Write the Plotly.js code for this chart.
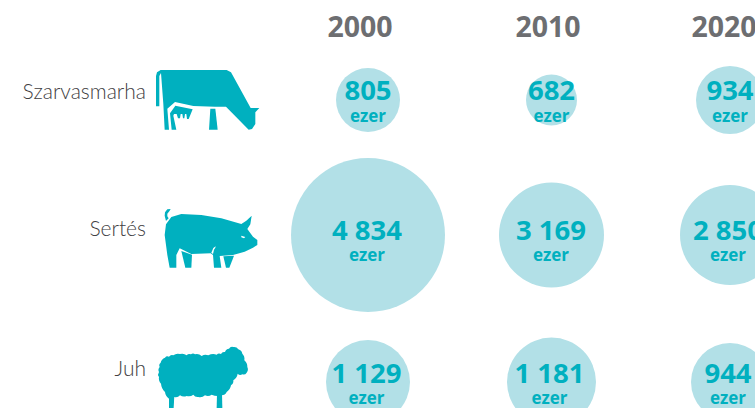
<!DOCTYPE html>
<html><head><meta charset="utf-8">
<script src="https://cdn.plot.ly/plotly-3.0.1.min.js"></script>
<style>html,body{margin:0;padding:0;background:#fff;overflow:hidden}#c{width:755px;height:408px}</style>
</head><body><div id="c"></div>
<script>
// Data
const years = ['2000','2010','2020'];
const animals = ['Szarvasmarha','Sertés','Juh'];
const labels2000 = ['805','4 834','1 129'];
const labels2010 = ['682','3 169','1 181'];
const labels2020 = ['934','2 850','944'];
const unit = 'ezer';
// Bubble diameters (not strictly proportional in the source)
const diam2000 = [64,154,84];
const diam2010 = [51,105,89];
const diam2020 = [68,100,78];

// Layout grid (axes are in page pixels)
const colX = [368,551.5,730];
const rowY = [100,235,382];
const yearTextX = [360,548,724];
const yearTextY = 30;
const rowTickY = [92,229,369];
const numY = [93,233,376];
const unitY = [118,257,400];
const textShift = [[0,0,0],[-1,-0.5,-2],[-1.5,-2,-2]];

const TEAL='#00b0bf', PALE='#b2e0e7', GREY='#6d6e71', LABEL='#414042';
const FONT='"Open Sans", sans-serif';
const valueCols=[labels2000,labels2010,labels2020];
const diamCols=[diam2000,diam2010,diam2020];

const traces=[];
years.forEach((yr,c)=>{
  traces.push({type:'scatter',mode:'markers',name:yr,x:rowY.map(()=>colX[c]),y:rowY,
    marker:{size:diamCols[c],sizemode:'diameter',color:PALE,opacity:1,line:{width:0}},cliponaxis:false,hoverinfo:'skip'});
});
years.forEach((yr,c)=>{
  traces.push({type:'scatter',mode:'text',x:rowY.map((_,r)=>colX[c]+textShift[r][c]),y:numY,text:valueCols[c],
    textposition:'middle center',textfont:{family:FONT,size:27.5,color:TEAL,weight:700},cliponaxis:false,hoverinfo:'skip'});
  traces.push({type:'scatter',mode:'text',x:rowY.map((_,r)=>colX[c]+textShift[r][c]),y:unitY,text:rowY.map(()=>unit),
    textposition:'middle center',textfont:{family:FONT,size:17,color:TEAL,weight:700},cliponaxis:false,hoverinfo:'skip'});
});
traces.push({type:'scatter',mode:'text',x:yearTextX,y:years.map(()=>yearTextY),text:years,
  textposition:'middle center',textfont:{family:FONT,size:28.5,color:GREY,weight:700},cliponaxis:false,hoverinfo:'skip'});

function poly(pts,ox,oy){return pts.map((p,i)=>(i?'L':'M')+(ox+p[0]/3)+','+(oy+p[1]/3)).join(' ')+' Z';}
function scallop(pts,ox,oy,b){let d='';pts.forEach((p,i)=>{const q=pts[(i+1)%pts.length];
  const x0=ox+p[0]/3,y0=oy+p[1]/3,x1=ox+q[0]/3,y1=oy+q[1]/3,dx=x1-x0,dy=y1-y0,l=Math.hypot(dx,dy)||1;
  if(!i)d+='M'+x0+','+y0+' ';
  d+='Q'+((x0+x1)/2+dy/l*b)+','+((y0+y1)/2-dx/l*b)+' '+x1+','+y1+' ';});return d+'Z';}
const shape=(path,color)=>({type:'path',xref:'x',yref:'y',path,fillcolor:color||TEAL,line:{width:0},layer:'below'});

// Cow
const cowO=[150,64];
const cowTail=[[18,127],[18,36],[21,25],[32,18],[40,18],[40,27],[33,27],[28,36],[28,127]];
const cowBody=[[32,18],[230,18],[243,25],[302,132],[328,132],[316,145],[316,180],[306,195],[296,197],[228,128],[195,128],[130,126],[75,114],[52,134],[57,197],[44,197],[40,120],[33,27]];
const cowLeg=[[181,134],[196,134],[203,197],[177,197]];
const cowUdder=[[60,148],[76,125],[128,136],[116,165],[111,165],[109,150],[105,150],[103,163],[99,163],[97,150],[92,150],[90,163],[84,163],[80,150],[72,150],[70,155],[79,197],[65,197]];
// Pig
const pigO=[158,205];
const pigTail=[[24,48],[20,32],[21,22],[28,13],[38,12],[34,19],[28,26],[28,34],[32,40]];
const pigBody=[[24,58],[40,36],[70,27],[130,30],[190,40],[250,57],[265,47],[281,32],[277,58],[268,72],[285,95],[298,105],[298,120],[285,128],[260,140],[225,150],[185,153],[190,188],[168,188],[165,150],[158,145],[100,147],[65,130],[55,150],[55,188],[35,188],[28,150],[20,90]];
const pigFarHind=[[70,138],[102,149],[100,188],[82,188]];
const pigFarFront=[[196,154],[228,152],[214,188],[204,188]];
const pigEye=[[250,92],[262,96],[258,100],[250,97]];
const pigNotch=[[160,143],[166,129],[173,124],[172,128],[168,134],[165,147]];
// Sheep
const sheepO=[155,342];
const sheepBody=[[12,90],[14,75],[17,62],[30,47],[42,44],[55,40],[75,36],[95,40],[108,37],[120,37],[140,42],[160,40],[185,38],[198,36],[210,30],[222,20],[235,15],[250,22],[262,35],[268,55],[277,75],[275,92],[262,97],[248,95],[235,115],[228,130],[215,150],[200,160],[170,158],[150,160],[130,165],[115,158],[95,162],[75,160],[58,165],[42,170],[30,150],[18,125],[12,105]];
const sheepLegA=[[42,160],[58,160],[56,198],[42,198]];
const sheepLegB=[[186,155],[201,155],[202,198],[185,198]];

const shapes=[
  shape(poly(cowTail,...cowO)),shape(poly(cowBody,...cowO)),shape(poly(cowLeg,...cowO)),shape(poly(cowUdder,...cowO)),
  shape(poly(pigTail,...pigO)),shape(poly(pigBody,...pigO)),shape(poly(pigFarHind,...pigO)),shape(poly(pigFarFront,...pigO)),
  shape(poly(sheepLegA,...sheepO)),shape(poly(sheepLegB,...sheepO)),shape(scallop(sheepBody,...sheepO,1.8))
];
const whites=[pigEye,pigNotch].map(p=>({type:'path',xref:'x',yref:'y',path:poly(p,...pigO),fillcolor:'#ffffff',line:{width:0},layer:'above'}));

const layout={
  width:755,height:408,autosize:false,showlegend:false,
  margin:{l:150,r:0,t:0,b:0,pad:0},
  paper_bgcolor:'#fff',plot_bgcolor:'#fff',
  xaxis:{type:'linear',range:[150,755],showgrid:false,zeroline:false,showline:false,ticks:'',showticklabels:false,automargin:false},
  yaxis:{type:'linear',range:[408,0],showgrid:false,zeroline:false,showline:false,ticks:'',
    tickmode:'array',tickvals:rowTickY,ticktext:animals,
    tickfont:{family:'Lato, sans-serif',size:21,color:LABEL,weight:300},ticklabelstandoff:3,automargin:false},
  shapes:shapes.concat(whites)
};
Plotly.newPlot('c',traces,layout,{staticPlot:true,displayModeBar:false});
</script></body></html>
